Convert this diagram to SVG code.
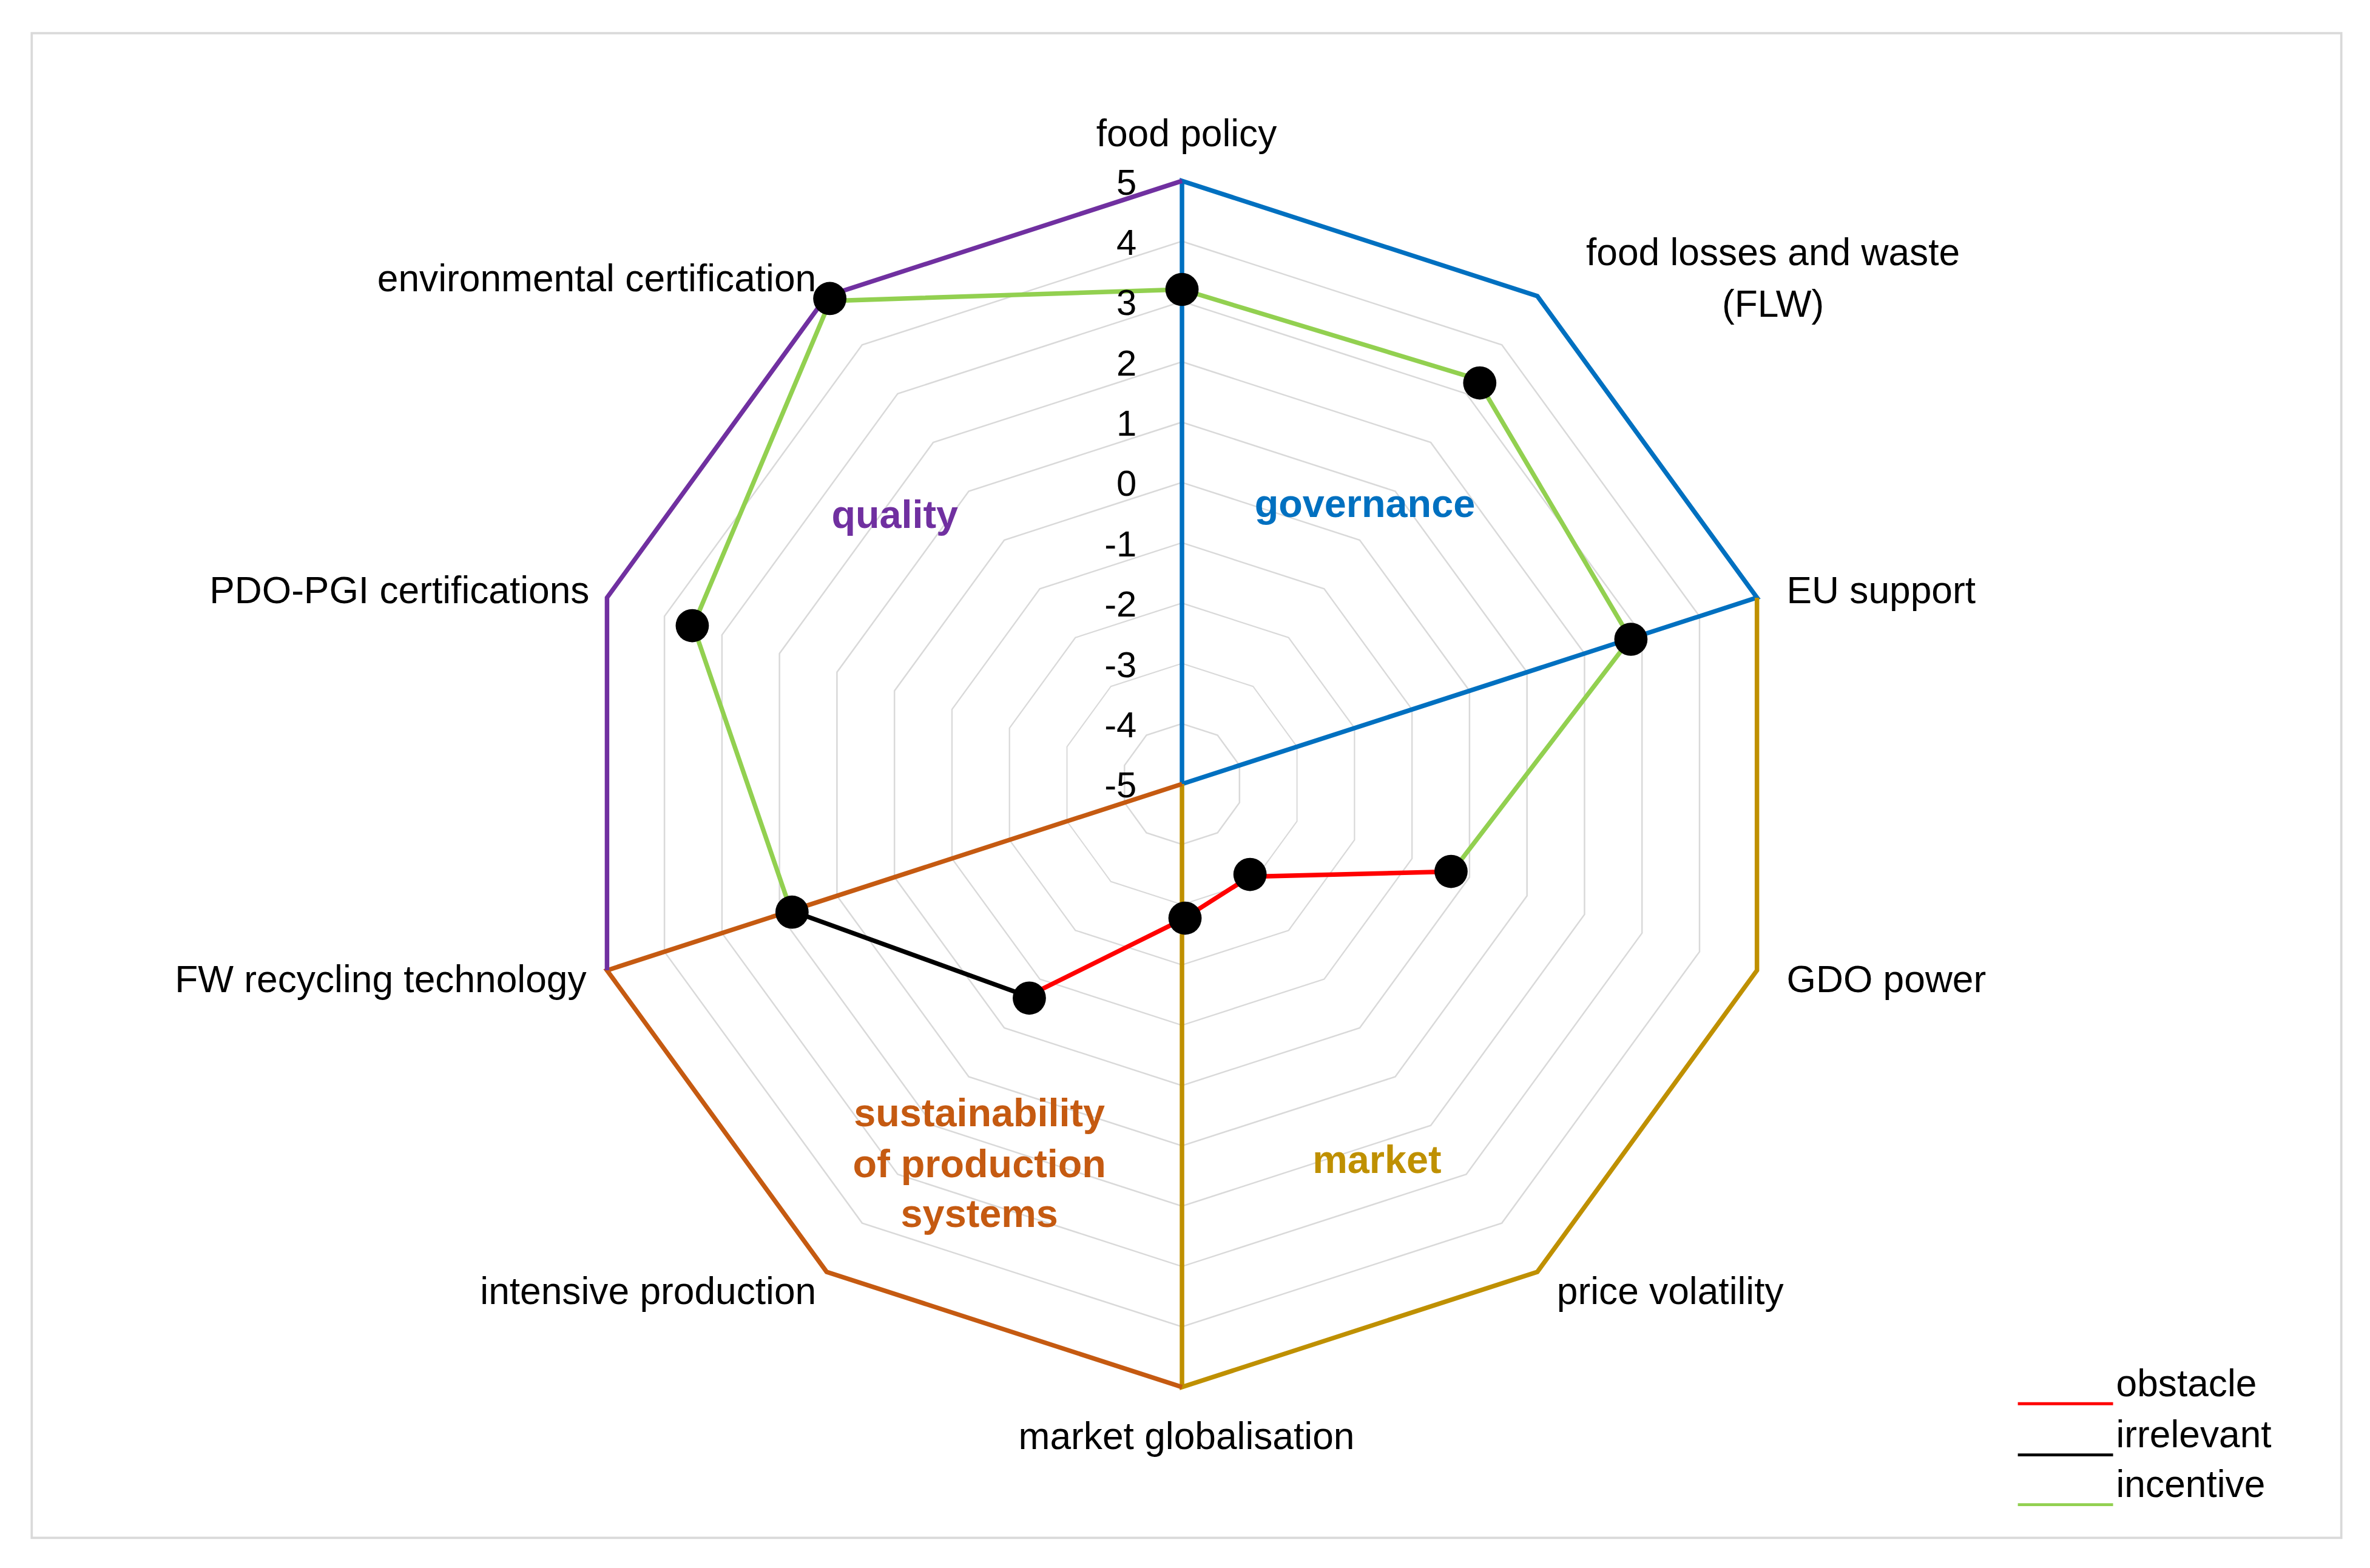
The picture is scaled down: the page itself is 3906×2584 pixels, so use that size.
<svg xmlns="http://www.w3.org/2000/svg" width="3906" height="2584" viewBox="0 0 3906 2584">
<style>
text{font-family:"Liberation Sans",Arial,sans-serif;font-size:25px;fill:#000}
.tick{font-size:24px;text-anchor:end}
.cat{font-weight:bold;font-size:26px;text-anchor:middle}
.ring{fill:none;stroke:#d9d9d9;stroke-width:2.5}
.dot{fill:#000}
</style>
<defs>
<polygon id="dec" points="0,-100 58.78,-80.9 95.11,-30.9 95.11,30.9 58.78,80.9 0,100 -58.78,80.9 -95.11,30.9 -95.11,-30.9 -58.78,-80.9"/>
</defs>
<rect width="3906" height="2584" fill="#fff"/>
<g transform="scale(2.4911,2.4846)">
<rect x="21" y="22" width="1528" height="998" fill="none" stroke="#d9d9d9" stroke-width="1.5"/>
<g id="grid">
<use href="#dec" class="ring" vector-effect="non-scaling-stroke" transform="translate(782,520) scale(0.4)"/>
<use href="#dec" class="ring" transform="translate(782,520) scale(0.8)" style="stroke-width:1"/>
<use href="#dec" class="ring" transform="translate(782,520) scale(1.2)" style="stroke-width:0.75"/>
<use href="#dec" class="ring" transform="translate(782,520) scale(1.6)" style="stroke-width:0.6"/>
<use href="#dec" class="ring" transform="translate(782,520) scale(2.0)" style="stroke-width:0.5"/>
<use href="#dec" class="ring" transform="translate(782,520) scale(2.4)" style="stroke-width:0.42"/>
<use href="#dec" class="ring" transform="translate(782,520) scale(2.8)" style="stroke-width:0.36"/>
<use href="#dec" class="ring" transform="translate(782,520) scale(3.2)" style="stroke-width:0.31"/>
<use href="#dec" class="ring" transform="translate(782,520) scale(3.6)" style="stroke-width:0.28"/>
</g>
<g id="sectors" fill="none" stroke-width="3">
<polyline points="782,520 782,120 1017.1,196.4 1162.4,396.4 782,520" stroke="#0070C0"/>
<polyline points="1162.4,396.4 1162.4,643.6 1017.1,843.6 782,920 782,520" stroke="#BF9000"/>
<polyline points="782,520 401.6,643.6 546.9,843.6 782,920" stroke="#C55A11"/>
<polyline points="401.6,643.6 401.6,396.4 546.9,196.4 782,120" stroke="#7030A0"/>
</g>
<g id="connectors" fill="none" stroke-width="3">
<polyline points="523.3,604 458.6,414.9 549.2,199.6 782,192 977.2,251.4 1078.7,423.6 960.8,578.1" stroke="#92D050"/>
<polyline points="960.8,578.1 826.7,581.5 782,610 679.7,660.8" stroke="#FF0000"/>
<polyline points="679.7,660.8 523.3,604" stroke="#000"/>
</g>
<g id="points">
<circle class="dot" cx="782" cy="192" r="11"/>
<circle class="dot" cx="979" cy="254" r="11"/>
<circle class="dot" cx="1079" cy="424" r="11"/>
<circle class="dot" cx="960" cy="578" r="11"/>
<circle class="dot" cx="827" cy="580" r="11"/>
<circle class="dot" cx="784" cy="609" r="11"/>
<circle class="dot" cx="681" cy="662" r="11"/>
<circle class="dot" cx="524" cy="605" r="11"/>
<circle class="dot" cx="458" cy="415" r="11"/>
<circle class="dot" cx="549" cy="198" r="11"/>
</g>
<g id="ticks">
<text class="tick" x="752" y="129">5</text>
<text class="tick" x="752" y="169">4</text>
<text class="tick" x="752" y="209">3</text>
<text class="tick" x="752" y="249">2</text>
<text class="tick" x="752" y="289">1</text>
<text class="tick" x="752" y="329">0</text>
<text class="tick" x="752" y="369">-1</text>
<text class="tick" x="752" y="409">-2</text>
<text class="tick" x="752" y="449">-3</text>
<text class="tick" x="752" y="489">-4</text>
<text class="tick" x="752" y="529">-5</text>
</g>
<g id="labels">
<text x="785" y="97" text-anchor="middle">food policy</text>
<text x="1173" y="176" text-anchor="middle">food losses and waste</text>
<text x="1173" y="210" text-anchor="middle">(FLW)</text>
<text x="1182" y="400">EU support</text>
<text x="1182" y="658">GDO power</text>
<text x="1030" y="865">price volatility</text>
<text x="785" y="961" text-anchor="middle">market globalisation</text>
<text x="540" y="865" text-anchor="end">intensive production</text>
<text x="388" y="658" text-anchor="end">FW recycling technology</text>
<text x="390" y="400" text-anchor="end">PDO-PGI certifications</text>
<text x="540" y="193" text-anchor="end">environmental certification</text>
</g>
<g id="categories">
<text class="cat" x="903" y="343" style="fill:#0070C0">governance</text>
<text class="cat" x="592" y="350" style="fill:#7030A0">quality</text>
<text class="cat" x="911" y="778" style="fill:#BF9000">market</text>
<text class="cat" x="648" y="747" style="fill:#C55A11">sustainability</text>
<text class="cat" x="648" y="781" style="fill:#C55A11">of production</text>
<text class="cat" x="648" y="814" style="fill:#C55A11">systems</text>
</g>
<g id="legend" stroke-width="2">
<line x1="1335" y1="931" x2="1398" y2="931" stroke="#FF0000"/>
<line x1="1335" y1="965" x2="1398" y2="965" stroke="#000"/>
<line x1="1335" y1="998" x2="1398" y2="998" stroke="#92D050"/>
<text x="1400" y="926" stroke="none">obstacle</text>
<text x="1400" y="960" stroke="none">irrelevant</text>
<text x="1400" y="993" stroke="none">incentive</text>
</g>
</g>
</svg>
